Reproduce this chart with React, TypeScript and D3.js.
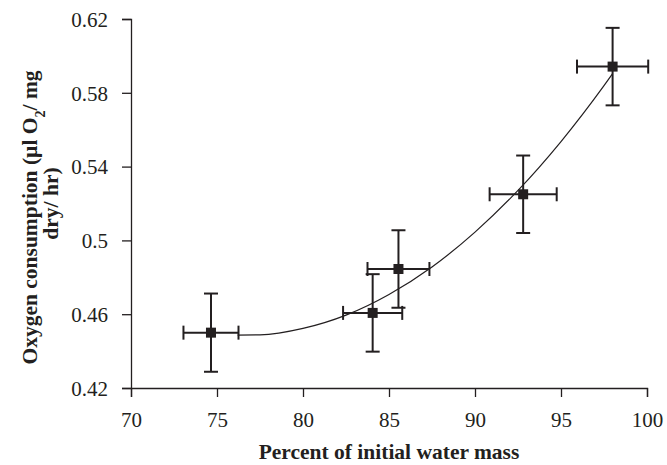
import React, { useEffect, useRef } from "react";
import * as d3 from "d3";

const xTicks = [70, 75, 80, 85, 90, 95, 100];
const yTicks = [0.42, 0.46, 0.5, 0.54, 0.58, 0.62];
const yTickLabels = ["0.42", "0.46", "0.5", "0.54", "0.58", "0.62"];

const pointX = [74.65, 84.05, 85.55, 92.8, 98.0];
const pointY = [0.450, 0.4607, 0.4845, 0.525, 0.5942];
const xErr = [1.6, 1.72, 1.8, 1.95, 2.07];
const yErr = [0.0212, 0.021, 0.021, 0.021, 0.021];

const curveX = [76.2, 77.5, 80, 82.5, 85, 87.5, 90, 92.5, 95, 97.5, 98.0];
const curveY = [0.4487, 0.4488, 0.4523, 0.4595, 0.4707, 0.4856, 0.5045, 0.5271, 0.5536, 0.5839, 0.5904];

const W = 667;
const H = 465;
const INK = "#231f20";
const SERIF = "'Liberation Serif', 'Times New Roman', serif";

export default function App() {
  const ref = useRef<SVGSVGElement>(null);

  useEffect(() => {
    const svg = d3.select(ref.current);
    svg.selectAll("*").remove();

    const x = d3.scaleLinear().domain([70, 100]).range([131, 647]);
    const y = d3.scaleLinear().domain([0.42, 0.62]).range([388, 19]);

    // axes
    const xAxis = d3
      .axisBottom(x)
      .tickValues(xTicks)
      .tickSize(9)
      .tickPadding(15)
      .tickFormat((d) => String(d));
    const gx = svg.append("g").attr("transform", `translate(0,${y(0.42)})`).call(xAxis);
    const yAxis = d3
      .axisLeft(y)
      .tickValues(yTicks)
      .tickSize(9)
      .tickPadding(14)
      .tickFormat((d, i) => yTickLabels[i]);
    const gy = svg.append("g").attr("transform", `translate(${x(70)},0)`).call(yAxis);

    [gx, gy].forEach((g) => {
      g.select(".domain").attr("stroke", INK).attr("stroke-width", 1.3);
      g.selectAll(".tick line").attr("stroke", INK).attr("stroke-width", 1.3);
      g.selectAll(".tick text")
        .attr("fill", INK)
        .style("font-family", SERIF)
        .style("font-size", "21px");
    });
    gy.selectAll(".tick text").attr("dy", "0.35em");

    // trend curve
    const line = d3
      .line<number>()
      .x((d) => x(d))
      .y((d, i) => y(curveY[i]))
      .curve(d3.curveMonotoneX);
    svg
      .append("path")
      .attr("d", line(curveX))
      .attr("fill", "none")
      .attr("stroke", INK)
      .attr("stroke-width", 1.2);

    // error bars
    const cap = 7;
    const g = svg.append("g").attr("stroke", INK).attr("stroke-width", 2);
    pointX.forEach((px, i) => {
      const cx = x(px);
      const cy = y(pointY[i]);
      const x0 = x(px - xErr[i]);
      const x1 = x(px + xErr[i]);
      const y0 = y(pointY[i] - yErr[i]);
      const y1 = y(pointY[i] + yErr[i]);
      g.append("line").attr("x1", x0).attr("x2", x1).attr("y1", cy).attr("y2", cy);
      g.append("line").attr("x1", x0).attr("x2", x0).attr("y1", cy - cap).attr("y2", cy + cap);
      g.append("line").attr("x1", x1).attr("x2", x1).attr("y1", cy - cap).attr("y2", cy + cap);
      g.append("line").attr("x1", cx).attr("x2", cx).attr("y1", y0).attr("y2", y1);
      g.append("line").attr("x1", cx - cap).attr("x2", cx + cap).attr("y1", y0).attr("y2", y0);
      g.append("line").attr("x1", cx - cap).attr("x2", cx + cap).attr("y1", y1).attr("y2", y1);
    });

    // markers
    const s = 10;
    svg
      .append("g")
      .selectAll("rect")
      .data(pointX)
      .join("rect")
      .attr("x", (d) => x(d) - s / 2)
      .attr("y", (d, i) => y(pointY[i]) - s / 2)
      .attr("width", s)
      .attr("height", s)
      .attr("fill", INK);

    // axis titles
    svg
      .append("text")
      .attr("x", (x(70) + x(100)) / 2)
      .attr("y", 459)
      .attr("text-anchor", "middle")
      .style("font-family", SERIF)
      .style("font-size", "21.5px")
      .style("font-weight", "bold")
      .attr("fill", INK)
      .text("Percent of initial water mass");

    const midY = (y(0.42) + y(0.62)) / 2;
    const yt = svg
      .append("text")
      .attr("transform", `translate(37,${midY + 14}) rotate(-90)`)
      .attr("text-anchor", "middle")
      .style("font-family", SERIF)
      .style("font-size", "21.5px")
      .style("font-weight", "bold")
      .attr("fill", INK);
    yt.append("tspan").text("Oxygen consumption (µl O");
    yt.append("tspan").attr("baseline-shift", "sub").style("font-size", "14px").text("2");
    yt.append("tspan").text("/ mg");
    svg
      .append("text")
      .attr("transform", `translate(58,${midY}) rotate(-90)`)
      .attr("text-anchor", "middle")
      .style("font-family", SERIF)
      .style("font-size", "21.5px")
      .style("font-weight", "bold")
      .attr("fill", INK)
      .text("dry/ hr)");
  }, []);

  return (
    <svg
      ref={ref}
      width={W}
      height={H}
      style={{ position: "absolute", left: 0, top: 0, background: "#fff" }}
    />
  );
}
